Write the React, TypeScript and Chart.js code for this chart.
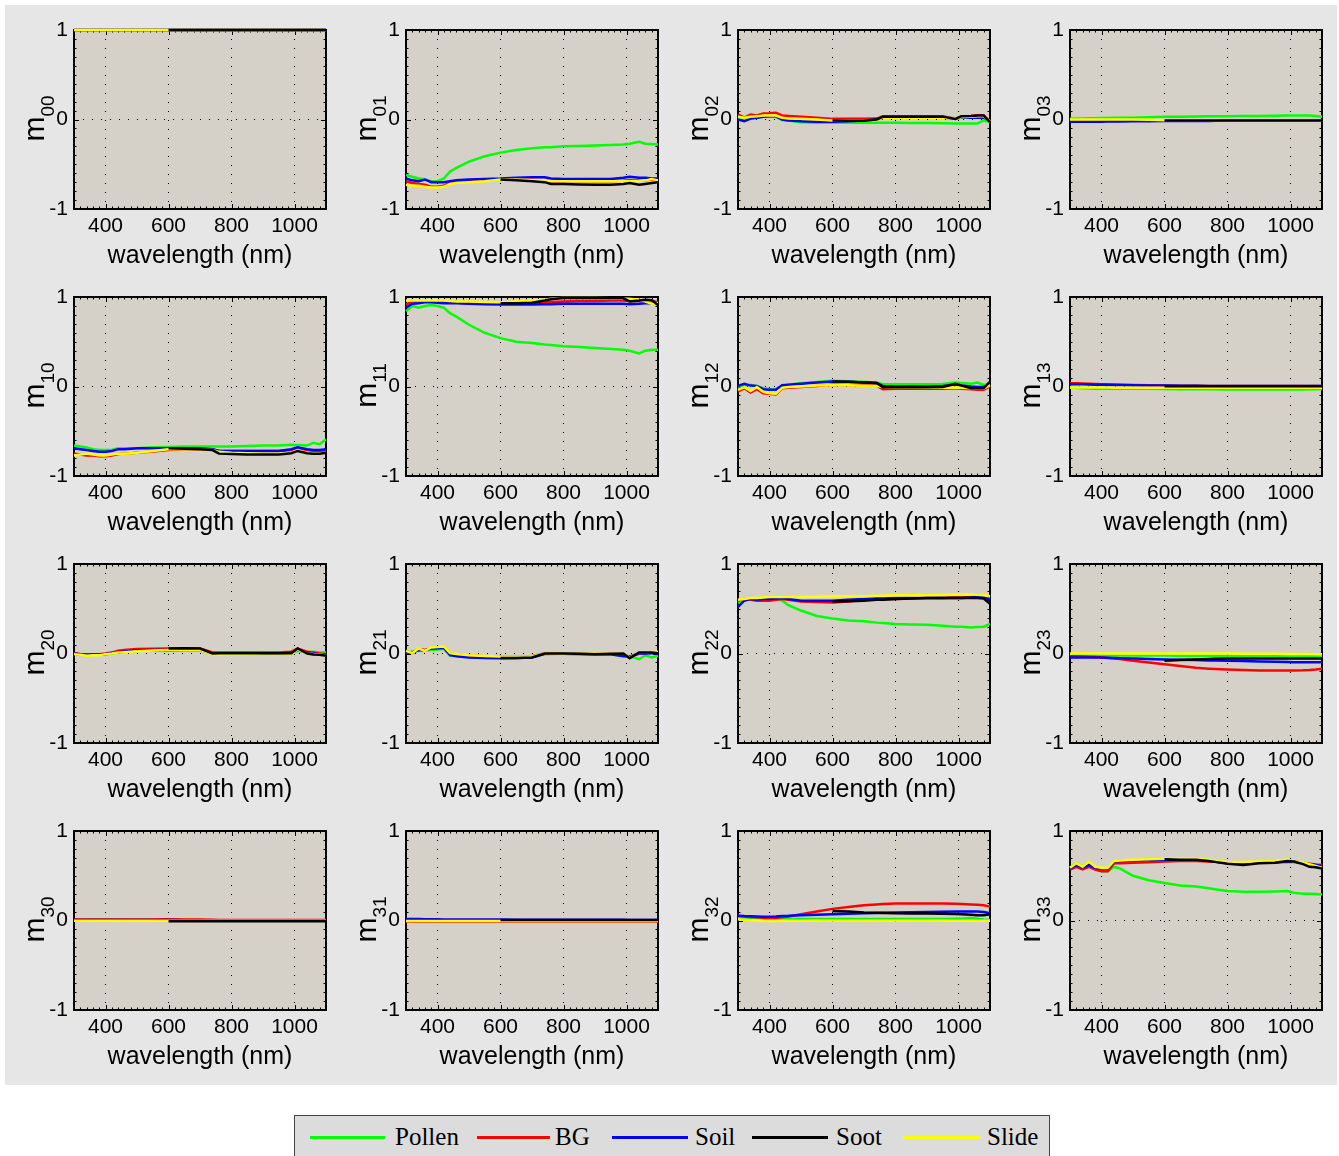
import React, { useEffect, useRef } from 'react';
import { Chart, registerables } from 'chart.js';

Chart.register(...registerables);

// ---------------- data ----------------
const WAVELENGTH = [300, 320, 340, 360, 380, 400, 420, 440, 460, 500, 550, 600, 650, 700, 740, 760, 800, 850, 900, 950, 990, 1010, 1040, 1060, 1080, 1100];
const X_TICKS = [400, 600, 800, 1000];
const Y_TICKS = [-1, 0, 1];
const SERIES_NAMES = ['Pollen', 'BG', 'Soil', 'Soot', 'Slide'];
const SERIES_COLORS = ['#00ff00', '#ff0000', '#0000ff', '#000000', '#ffff00'];
const PANEL_LABELS = ['00', '01', '02', '03', '10', '11', '12', '13', '20', '21', '22', '23', '30', '31', '32', '33'];
const N = null;

const m00_Pollen = [1, 1, 1, 1, 1, 1, 1, 1, 1, 1, 1, 1, 1, 1, 1, 1, 1, 1, 1, 1, 1, 1, 1, 1, 1, 1];
const m00_BG = [1, 1, 1, 1, 1, 1, 1, 1, 1, 1, 1, 1, 1, 1, 1, 1, 1, 1, 1, 1, 1, 1, 1, 1, 1, 1];
const m00_Soil = [1, 1, 1, 1, 1, 1, 1, 1, 1, 1, 1, 1, 1, 1, 1, 1, 1, 1, 1, 1, 1, 1, 1, 1, 1, 1];
const m00_Soot = [N, N, N, N, N, N, N, N, N, N, N, 1, 1, 1, 1, 1, 1, 1, 1, 1, 1, 1, 1, 1, 1, 1];
const m00_Slide = [1, 1, 1, 1, 1, 1, 1, 1, 1, 1, 1, 1, 1, 1, 1, 1, 1, 1, 1, 1, 1, 1, 1, 1, 1, 1];

const m01_Pollen = [-0.62, -0.64, -0.66, -0.67, -0.69, -0.69, -0.66, -0.58, -0.54, -0.47, -0.41, -0.37, -0.34, -0.32, -0.31, -0.31, -0.30, -0.295, -0.29, -0.285, -0.28, -0.27, -0.25, -0.27, -0.275, -0.28];
const m01_BG = [-0.69, -0.71, -0.72, -0.73, -0.75, -0.75, -0.74, -0.71, -0.70, -0.69, -0.68, -0.67, -0.67, -0.67, -0.68, -0.69, -0.69, -0.69, -0.69, -0.69, -0.685, -0.68, -0.68, -0.68, -0.67, -0.68];
const m01_Soil = [-0.66, -0.68, -0.69, -0.67, -0.70, -0.70, -0.70, -0.69, -0.68, -0.67, -0.665, -0.66, -0.65, -0.645, -0.645, -0.66, -0.665, -0.665, -0.665, -0.665, -0.65, -0.64, -0.65, -0.65, -0.66, -0.66];
const m01_Soot = [N, N, N, N, N, N, N, N, N, N, N, -0.67, -0.68, -0.69, -0.70, -0.72, -0.72, -0.725, -0.73, -0.73, -0.72, -0.71, -0.73, -0.72, -0.71, -0.70];
const m01_Slide = [-0.73, -0.74, -0.74, -0.75, -0.76, -0.76, -0.75, -0.72, -0.71, -0.70, -0.69, -0.67, -0.67, -0.675, -0.68, -0.69, -0.69, -0.69, -0.69, -0.69, -0.69, -0.69, -0.685, -0.68, -0.665, -0.68];

const m02_Pollen = [0.0, 0.0, 0.01, 0.02, 0.03, 0.03, 0.03, -0.005, -0.01, -0.03, -0.035, -0.037, -0.037, -0.037, -0.037, -0.037, -0.037, -0.04, -0.04, -0.042, -0.045, -0.045, -0.045, -0.045, -0.01, -0.03];
const m02_BG = [0.056, 0.02, 0.056, 0.045, 0.067, 0.07, 0.075, 0.045, 0.04, 0.03, 0.02, 0.007, 0.007, 0.007, 0.01, 0.037, 0.037, 0.037, 0.037, 0.035, 0.007, 0.037, 0.04, 0.045, 0.045, -0.02];
const m02_Soil = [0.0, -0.02, 0.01, 0.02, 0.03, 0.035, 0.037, 0.0, -0.01, -0.02, -0.025, -0.026, -0.02, -0.01, 0.0, 0.02, 0.02, 0.02, 0.02, 0.02, 0.015, 0.02, 0.02, 0.02, 0.02, -0.01];
const m02_Soot = [N, N, N, N, N, N, N, N, N, N, N, -0.01, -0.015, -0.015, 0.0, 0.03, 0.03, 0.03, 0.032, 0.032, 0.007, 0.037, 0.04, 0.045, 0.045, -0.03];
const m02_Slide = [0.03, 0.02, 0.03, 0.035, 0.045, 0.045, 0.045, 0.02, 0.01, 0.007, 0.0, -0.01, -0.01, -0.01, -0.005, 0.02, 0.02, 0.02, 0.02, 0.02, 0.015, 0.025, 0.03, 0.035, 0.035, -0.02];

const m03_Pollen = [0.007, 0.01, 0.012, 0.014, 0.015, 0.017, 0.018, 0.019, 0.02, 0.02, 0.025, 0.03, 0.032, 0.034, 0.035, 0.036, 0.037, 0.038, 0.04, 0.042, 0.044, 0.045, 0.045, 0.045, 0.04, 0.03];
const m03_BG = [-0.01, -0.01, -0.011, -0.011, -0.012, -0.012, -0.012, -0.012, -0.012, -0.012, -0.012, -0.012, -0.012, -0.012, -0.012, -0.012, -0.012, -0.012, -0.012, -0.012, -0.012, -0.012, -0.012, -0.012, -0.012, -0.012];
const m03_Soil = [-0.026, -0.026, -0.025, -0.025, -0.024, -0.024, -0.023, -0.023, -0.022, -0.02, -0.02, -0.018, -0.017, -0.016, -0.016, -0.015, -0.015, -0.015, -0.015, -0.015, -0.015, -0.015, -0.015, -0.015, -0.015, -0.015];
const m03_Soot = [N, N, N, N, N, N, N, N, N, N, N, -0.012, -0.012, -0.012, -0.012, -0.012, -0.012, -0.012, -0.012, -0.012, -0.012, -0.012, -0.012, -0.012, -0.012, -0.012];
const m03_Slide = [0, 0, 0, 0, 0, 0, 0, 0, 0, 0, -0.004, -0.007, -0.008, -0.008, -0.009, -0.009, -0.01, -0.01, -0.01, -0.01, -0.01, -0.01, -0.01, -0.01, -0.01, -0.01];

const m10_Pollen = [-0.66, -0.67, -0.68, -0.70, -0.71, -0.71, -0.71, -0.69, -0.69, -0.69, -0.68, -0.675, -0.67, -0.67, -0.67, -0.67, -0.67, -0.665, -0.66, -0.66, -0.65, -0.655, -0.66, -0.63, -0.645, -0.59];
const m10_BG = [-0.75, -0.76, -0.77, -0.77, -0.78, -0.78, -0.77, -0.755, -0.75, -0.74, -0.725, -0.71, -0.70, -0.70, -0.70, -0.72, -0.72, -0.72, -0.72, -0.72, -0.71, -0.70, -0.71, -0.72, -0.72, -0.72];
const m10_Soil = [-0.69, -0.70, -0.71, -0.72, -0.73, -0.73, -0.72, -0.70, -0.70, -0.69, -0.69, -0.69, -0.69, -0.69, -0.70, -0.72, -0.72, -0.72, -0.72, -0.72, -0.70, -0.68, -0.70, -0.71, -0.71, -0.70];
const m10_Soot = [N, N, N, N, N, N, N, N, N, N, N, -0.69, -0.695, -0.70, -0.71, -0.75, -0.755, -0.76, -0.76, -0.76, -0.745, -0.72, -0.745, -0.75, -0.75, -0.74];
const m10_Slide = [-0.77, -0.76, -0.75, -0.76, -0.77, -0.77, -0.76, -0.75, -0.75, -0.74, -0.72, -0.70, -0.70, -0.70, -0.71, -0.73, -0.74, -0.745, -0.75, -0.75, -0.74, -0.71, -0.74, -0.745, -0.745, -0.74];

const m11_Pollen = [0.84, 0.90, 0.88, 0.90, 0.91, 0.90, 0.88, 0.82, 0.78, 0.69, 0.60, 0.54, 0.50, 0.485, 0.47, 0.465, 0.45, 0.44, 0.43, 0.42, 0.41, 0.40, 0.37, 0.40, 0.41, 0.41];
const m11_BG = [0.915, 0.95, 0.95, 0.95, 0.95, 0.95, 0.945, 0.94, 0.935, 0.93, 0.925, 0.925, 0.93, 0.935, 0.94, 0.945, 0.95, 0.955, 0.955, 0.96, 0.96, 0.955, 0.955, 0.96, 0.96, 0.94];
const m11_Soil = [0.88, 0.925, 0.93, 0.94, 0.94, 0.935, 0.93, 0.93, 0.93, 0.925, 0.92, 0.915, 0.915, 0.915, 0.92, 0.92, 0.925, 0.925, 0.925, 0.925, 0.925, 0.92, 0.925, 0.93, 0.93, 0.93];
const m11_Soot = [N, N, N, N, N, N, N, N, N, N, N, 0.93, 0.93, 0.935, 0.96, 0.975, 0.99, 0.99, 0.99, 0.99, 0.985, 0.95, 0.96, 0.97, 0.965, 0.91];
const m11_Slide = [0.96, 0.96, 0.96, 0.96, 0.96, 0.96, 0.96, 0.955, 0.95, 0.95, 0.945, 0.94, 0.95, 0.96, 0.97, 0.98, 0.99, 0.99, 0.99, 0.985, 0.98, 0.98, 0.97, 0.95, 0.925, 0.93];

const m12_Pollen = [0.0, 0.01, 0.02, 0.0, -0.02, -0.03, -0.03, 0.005, 0.02, 0.037, 0.05, 0.063, 0.058, 0.052, 0.045, 0.026, 0.026, 0.025, 0.025, 0.028, 0.045, 0.04, 0.03, 0.045, 0.018, 0.03];
const m12_BG = [-0.056, -0.02, -0.067, -0.03, -0.075, -0.082, -0.09, -0.02, -0.015, -0.007, 0.005, 0.02, 0.018, 0.015, 0.01, -0.03, -0.025, -0.025, -0.026, -0.026, -0.02, -0.026, -0.03, -0.035, -0.037, 0.0];
const m12_Soil = [0.007, 0.03, 0.01, 0.007, -0.03, -0.037, -0.037, 0.015, 0.02, 0.03, 0.045, 0.056, 0.052, 0.045, 0.04, 0.007, 0.0, 0.0, 0.0, 0.005, 0.022, 0.01, 0.0, -0.005, -0.005, 0.02];
const m12_Soot = [N, N, N, N, N, N, N, N, N, N, N, 0.056, 0.052, 0.045, 0.04, -0.007, -0.007, -0.005, -0.007, -0.005, 0.03, 0.01, -0.02, -0.02, -0.02, 0.056];
const m12_Slide = [-0.037, -0.007, -0.05, -0.007, -0.06, -0.075, -0.08, -0.015, -0.005, 0.0, 0.01, 0.015, 0.013, 0.007, 0.005, -0.007, -0.01, -0.012, -0.014, -0.015, -0.01, -0.015, -0.02, -0.022, -0.022, 0.015];

const m13_Pollen = [-0.01, -0.015, -0.02, -0.022, -0.024, -0.026, -0.026, -0.026, -0.026, -0.026, -0.026, -0.028, -0.03, -0.03, -0.032, -0.032, -0.034, -0.034, -0.034, -0.034, -0.034, -0.034, -0.033, -0.032, -0.03, -0.028];
const m13_BG = [0.037, 0.035, 0.033, 0.03, 0.028, 0.026, 0.024, 0.022, 0.02, 0.018, 0.015, 0.01, 0.008, 0.007, 0.006, 0.005, 0.005, 0.005, 0.005, 0.005, 0.005, 0.005, 0.005, 0.005, 0.005, 0.005];
const m13_Soil = [0.026, 0.025, 0.024, 0.022, 0.02, 0.02, 0.018, 0.017, 0.016, 0.015, 0.012, 0.01, 0.008, 0.007, 0.006, 0.005, 0.005, 0.005, 0.005, 0.005, 0.005, 0.005, 0.005, 0.005, 0.005, 0.005];
const m13_Soot = [N, N, N, N, N, N, N, N, N, N, N, 0.002, 0.002, 0.002, 0.002, 0.002, 0.002, 0.002, 0.002, 0.002, 0.002, 0.002, 0.002, 0.002, 0.002, 0.002];
const m13_Slide = [-0.01, -0.01, -0.011, -0.011, -0.012, -0.012, -0.012, -0.013, -0.013, -0.013, -0.014, -0.015, -0.015, -0.015, -0.015, -0.015, -0.015, -0.015, -0.015, -0.015, -0.015, -0.015, -0.015, -0.015, -0.015, -0.015];

const m20_Pollen = [0.0, -0.01, -0.018, -0.015, -0.015, -0.01, 0.0, 0.018, 0.02, 0.03, 0.036, 0.04, 0.042, 0.04, 0.0, 0.0, 0.0, 0.0, 0.0, 0.002, 0.01, 0.03, 0.015, 0.02, 0.01, 0.01];
const m20_BG = [0.004, -0.005, -0.011, -0.01, -0.008, 0.0, 0.01, 0.03, 0.04, 0.05, 0.054, 0.056, 0.056, 0.055, 0.011, 0.01, 0.01, 0.01, 0.01, 0.012, 0.02, 0.056, 0.02, 0.01, 0.0, -0.007];
const m20_Soil = [0.0, -0.01, -0.015, -0.012, -0.01, -0.005, 0.005, 0.015, 0.02, 0.035, 0.04, 0.037, 0.04, 0.04, -0.004, -0.002, 0.0, 0.0, 0.0, 0.0, 0.01, 0.034, 0.01, 0.0, -0.01, -0.011];
const m20_Soot = [N, N, N, N, N, N, N, N, N, N, N, 0.056, 0.058, 0.056, 0.0, 0.002, 0.004, 0.004, 0.004, 0.004, 0.004, 0.056, 0.0, -0.01, -0.015, -0.026];
const m20_Slide = [-0.007, -0.015, -0.026, -0.02, -0.02, -0.007, 0.0, 0.011, 0.015, 0.026, 0.033, 0.04, 0.04, 0.04, -0.007, -0.007, -0.007, -0.005, 0.0, 0.0, 0.0, 0.04, 0.0, -0.005, -0.007, -0.026];

const m21_Pollen = [0.011, 0.02, 0.03, 0.035, 0.04, 0.045, 0.05, -0.026, -0.028, -0.034, -0.034, -0.038, -0.036, -0.03, -0.008, -0.006, -0.004, -0.005, -0.005, -0.01, -0.026, -0.03, -0.064, -0.02, -0.045, -0.026];
const m21_BG = [0.023, 0.01, 0.05, 0.04, 0.06, 0.065, 0.071, 0.0, -0.01, -0.026, -0.03, -0.034, -0.034, -0.03, 0.004, 0.004, 0.0, 0.0, -0.002, -0.005, -0.01, -0.038, 0.0, 0.005, 0.01, 0.011];
const m21_Soil = [0.011, 0.005, 0.04, 0.035, 0.055, 0.06, 0.064, -0.019, -0.03, -0.045, -0.05, -0.052, -0.05, -0.045, -0.004, -0.004, -0.004, -0.006, -0.007, -0.008, -0.03, -0.034, 0.0, 0.0, 0.004, 0.004];
const m21_Soot = [N, N, N, N, N, N, N, N, N, N, N, -0.049, -0.049, -0.045, 0.0, 0.0, 0.0, -0.004, -0.007, -0.004, 0.0, -0.052, 0.011, 0.011, 0.011, 0.004];
const m21_Slide = [0.03, 0.004, 0.056, 0.03, 0.067, 0.072, 0.079, 0.004, -0.005, -0.02, -0.028, -0.034, -0.034, -0.034, 0.004, 0.0, 0.0, 0.0, 0.0, 0.0, 0.0, -0.045, 0.011, 0.015, 0.018, 0.019];

const m22_Pollen = [0.57, 0.60, 0.61, 0.61, 0.61, 0.61, 0.62, 0.59, 0.54, 0.48, 0.42, 0.39, 0.37, 0.36, 0.345, 0.34, 0.33, 0.325, 0.32, 0.31, 0.30, 0.30, 0.29, 0.295, 0.30, 0.33];
const m22_BG = [0.59, 0.61, 0.60, 0.59, 0.59, 0.59, 0.60, 0.61, 0.60, 0.58, 0.575, 0.57, 0.58, 0.60, 0.605, 0.605, 0.61, 0.615, 0.62, 0.62, 0.625, 0.625, 0.63, 0.635, 0.64, 0.62];
const m22_Soil = [0.52, 0.59, 0.61, 0.60, 0.61, 0.61, 0.615, 0.62, 0.61, 0.59, 0.59, 0.59, 0.60, 0.61, 0.615, 0.615, 0.62, 0.62, 0.62, 0.62, 0.62, 0.62, 0.625, 0.63, 0.63, 0.60];
const m22_Soot = [N, N, N, N, N, N, N, N, N, N, N, 0.58, 0.585, 0.59, 0.60, 0.60, 0.61, 0.615, 0.62, 0.62, 0.62, 0.62, 0.62, 0.62, 0.615, 0.555];
const m22_Slide = [0.60, 0.61, 0.62, 0.62, 0.625, 0.63, 0.63, 0.63, 0.63, 0.63, 0.635, 0.64, 0.64, 0.64, 0.645, 0.645, 0.65, 0.65, 0.65, 0.655, 0.66, 0.66, 0.66, 0.655, 0.65, 0.64];

const m23_Pollen = [-0.02, -0.02, -0.02, -0.02, -0.02, -0.02, -0.022, -0.022, -0.022, -0.022, -0.022, -0.023, -0.024, -0.025, -0.026, -0.027, -0.027, -0.028, -0.028, -0.029, -0.03, -0.03, -0.03, -0.03, -0.03, -0.03];
const m23_BG = [-0.03, -0.032, -0.034, -0.036, -0.04, -0.045, -0.05, -0.055, -0.062, -0.08, -0.10, -0.12, -0.14, -0.16, -0.17, -0.174, -0.18, -0.185, -0.19, -0.19, -0.19, -0.19, -0.188, -0.185, -0.18, -0.17];
const m23_Soil = [-0.045, -0.045, -0.045, -0.045, -0.045, -0.045, -0.047, -0.049, -0.052, -0.056, -0.062, -0.067, -0.071, -0.074, -0.077, -0.078, -0.082, -0.085, -0.088, -0.092, -0.095, -0.097, -0.097, -0.097, -0.097, -0.097];
const m23_Soot = [N, N, N, N, N, N, N, N, N, N, N, -0.082, -0.074, -0.067, -0.062, -0.06, -0.056, -0.056, -0.056, -0.056, -0.056, -0.056, -0.056, -0.056, -0.056, -0.056];
const m23_Slide = [0.0, 0.0, 0.0, 0.0, 0.0, 0.0, 0.0, 0.0, 0.0, 0.0, 0.0, 0.0, 0.0, 0.0, 0.0, 0.0, 0.0, -0.002, -0.003, -0.004, -0.005, -0.005, -0.006, -0.006, -0.007, -0.007];

const m30_Pollen = [0.004, 0.004, 0.004, 0.005, 0.005, 0.005, 0.005, 0.005, 0.004, 0.004, 0.004, 0.003, 0.003, 0.003, 0.003, 0.003, 0.003, 0.003, 0.003, 0.002, 0.002, 0.002, 0.002, 0.002, 0.002, 0.002];
const m30_BG = [0.01, 0.01, 0.01, 0.01, 0.01, 0.01, 0.01, 0.01, 0.01, 0.01, 0.012, 0.013, 0.012, 0.01, 0.008, 0.006, 0.005, 0.005, 0.005, 0.005, 0.005, 0.005, 0.005, 0.005, 0.005, 0.005];
const m30_Soil = [0.006, 0.006, 0.006, 0.006, 0.006, 0.006, 0.006, 0.006, 0.006, 0.006, 0.006, 0.006, 0.004, 0.002, 0.0, 0.0, 0.0, 0.0, 0.0, 0.0, 0.0, 0.0, 0.0, 0.0, 0.0, 0.0];
const m30_Soot = [N, N, N, N, N, N, N, N, N, N, N, -0.008, -0.008, -0.008, -0.008, -0.008, -0.008, -0.008, -0.008, -0.008, -0.008, -0.008, -0.008, -0.008, -0.008, -0.008];
const m30_Slide = [-0.004, -0.004, -0.004, -0.004, -0.004, -0.004, -0.004, -0.004, -0.004, -0.004, -0.004, -0.004, -0.004, -0.004, -0.004, -0.004, -0.004, -0.004, -0.004, -0.004, -0.004, -0.004, -0.004, -0.004, -0.004, -0.004];

const m31_Pollen = [0.002, 0.002, 0.002, 0.002, 0.002, 0.002, 0.002, 0.002, 0.002, 0.002, 0.002, 0.002, 0.002, 0.002, 0.002, 0.002, 0.002, 0.002, 0.002, 0.002, 0.002, 0.002, 0.002, 0.002, 0.002, 0.002];
const m31_BG = [-0.01, -0.01, -0.01, -0.01, -0.01, -0.01, -0.01, -0.01, -0.01, -0.01, -0.01, -0.01, -0.01, -0.01, -0.01, -0.01, -0.01, -0.01, -0.01, -0.01, -0.01, -0.01, -0.01, -0.01, -0.01, -0.01];
const m31_Soil = [0.018, 0.017, 0.016, 0.015, 0.014, 0.013, 0.012, 0.012, 0.011, 0.011, 0.01, 0.01, 0.009, 0.009, 0.008, 0.008, 0.008, 0.007, 0.007, 0.007, 0.007, 0.006, 0.006, 0.006, 0.006, 0.006];
const m31_Soot = [N, N, N, N, N, N, N, N, N, N, N, 0.006, 0.006, 0.006, 0.006, 0.006, 0.006, 0.006, 0.006, 0.006, 0.006, 0.006, 0.006, 0.006, 0.006, 0.006];
const m31_Slide = [-0.006, -0.006, -0.006, -0.006, -0.006, -0.006, -0.006, -0.006, -0.006, -0.006, -0.006, -0.006, -0.006, -0.006, -0.006, -0.006, -0.006, -0.006, -0.006, -0.006, -0.006, -0.006, -0.006, -0.006, -0.006, -0.006];

const m32_Pollen = [0.024, 0.022, 0.02, 0.02, 0.02, 0.02, 0.02, 0.02, 0.018, 0.017, 0.017, 0.017, 0.017, 0.017, 0.017, 0.017, 0.017, 0.017, 0.017, 0.018, 0.02, 0.02, 0.028, 0.02, 0.01, 0.005];
const m32_BG = [0.054, 0.045, 0.04, 0.035, 0.032, 0.03, 0.03, 0.035, 0.045, 0.07, 0.10, 0.13, 0.15, 0.17, 0.18, 0.183, 0.19, 0.19, 0.19, 0.19, 0.187, 0.185, 0.18, 0.175, 0.17, 0.155];
const m32_Soil = [0.054, 0.05, 0.048, 0.045, 0.043, 0.043, 0.045, 0.05, 0.052, 0.06, 0.065, 0.07, 0.075, 0.08, 0.085, 0.087, 0.09, 0.092, 0.095, 0.097, 0.1, 0.1, 0.1, 0.1, 0.095, 0.08];
const m32_Soot = [N, N, N, N, N, N, N, N, N, N, N, 0.106, 0.1, 0.09, 0.087, 0.085, 0.08, 0.078, 0.077, 0.075, 0.072, 0.07, 0.065, 0.06, 0.06, 0.07];
const m32_Slide = [0.013, 0.008, 0.004, 0.0, -0.004, -0.006, -0.005, -0.004, -0.003, -0.002, 0.0, 0.0, 0.0, 0.0, 0.0, 0.0, 0.0, 0.0, -0.001, -0.001, -0.002, -0.002, -0.002, -0.003, -0.003, -0.003];

const m33_Pollen = [0.59, 0.64, 0.60, 0.66, 0.58, 0.55, 0.55, 0.60, 0.58, 0.50, 0.45, 0.42, 0.39, 0.38, 0.36, 0.35, 0.33, 0.32, 0.32, 0.325, 0.33, 0.31, 0.30, 0.30, 0.295, 0.29];
const m33_BG = [0.57, 0.60, 0.57, 0.60, 0.57, 0.55, 0.55, 0.64, 0.64, 0.645, 0.65, 0.66, 0.665, 0.665, 0.66, 0.655, 0.645, 0.645, 0.645, 0.65, 0.655, 0.655, 0.645, 0.635, 0.625, 0.62];
const m33_Soil = [0.58, 0.62, 0.59, 0.62, 0.59, 0.58, 0.58, 0.66, 0.665, 0.67, 0.675, 0.68, 0.68, 0.68, 0.67, 0.66, 0.64, 0.64, 0.645, 0.65, 0.66, 0.66, 0.645, 0.63, 0.62, 0.61];
const m33_Soot = [N, N, N, N, N, N, N, N, N, N, N, 0.685, 0.68, 0.68, 0.665, 0.655, 0.635, 0.62, 0.64, 0.645, 0.665, 0.66, 0.63, 0.60, 0.595, 0.58];
const m33_Slide = [0.59, 0.64, 0.60, 0.66, 0.60, 0.59, 0.59, 0.665, 0.67, 0.68, 0.685, 0.69, 0.69, 0.69, 0.68, 0.665, 0.65, 0.655, 0.66, 0.665, 0.68, 0.66, 0.65, 0.63, 0.61, 0.59];

// series per panel, in SERIES_NAMES order (Pollen, BG, Soil, Soot, Slide)
const PANEL_SERIES = [
  [m00_Pollen, m00_BG, m00_Soil, m00_Soot, m00_Slide],
  [m01_Pollen, m01_BG, m01_Soil, m01_Soot, m01_Slide],
  [m02_Pollen, m02_BG, m02_Soil, m02_Soot, m02_Slide],
  [m03_Pollen, m03_BG, m03_Soil, m03_Soot, m03_Slide],
  [m10_Pollen, m10_BG, m10_Soil, m10_Soot, m10_Slide],
  [m11_Pollen, m11_BG, m11_Soil, m11_Soot, m11_Slide],
  [m12_Pollen, m12_BG, m12_Soil, m12_Soot, m12_Slide],
  [m13_Pollen, m13_BG, m13_Soil, m13_Soot, m13_Slide],
  [m20_Pollen, m20_BG, m20_Soil, m20_Soot, m20_Slide],
  [m21_Pollen, m21_BG, m21_Soil, m21_Soot, m21_Slide],
  [m22_Pollen, m22_BG, m22_Soil, m22_Soot, m22_Slide],
  [m23_Pollen, m23_BG, m23_Soil, m23_Soot, m23_Slide],
  [m30_Pollen, m30_BG, m30_Soil, m30_Soot, m30_Slide],
  [m31_Pollen, m31_BG, m31_Soil, m31_Soot, m31_Slide],
  [m32_Pollen, m32_BG, m32_Soil, m32_Soot, m32_Slide],
  [m33_Pollen, m33_BG, m33_Soil, m33_Soot, m33_Slide],
];

// ---------------- styling / layout ----------------
const FONT = '"Liberation Sans", Arial, Helvetica, sans-serif';
const SERIF = '"Liberation Serif", "Times New Roman", serif';
const FIG_BG = '#e6e6e6';
const PLOT_BG = '#d5d0c8';
const CW = 332;
const CH = 267;
// Chart.js draws the first dataset on top; order from top to bottom:
const DRAW_ORDER = [3, 4, 2, 1, 0];

function makeAxesPlugin(label: string) {
  return {
    id: 'matlabAxes',
    beforeDraw(chart: any) {
      const { ctx, chartArea: a } = chart;
      ctx.save();
      ctx.fillStyle = PLOT_BG;
      ctx.fillRect(a.left, a.top, a.right - a.left, a.bottom - a.top);
      ctx.restore();
    },
    beforeDatasetsDraw(chart: any) {
      const { ctx, chartArea: a, scales } = chart;
      const xs = scales.x;
      const ys = scales.y;
      ctx.save();
      ctx.strokeStyle = '#000';
      ctx.lineWidth = 1;
      ctx.beginPath();
      // minor ticks x every 20 nm
      for (let v = 300; v <= 1100; v += 20) {
        const px = Math.round(xs.getPixelForValue(v)) + 0.5;
        const major = X_TICKS.includes(v);
        const len = major ? 5 : 2.5;
        ctx.moveTo(px, a.bottom);
        ctx.lineTo(px, a.bottom - len);
        ctx.moveTo(px, a.top);
        ctx.lineTo(px, a.top + len);
      }
      // minor ticks y every 0.1
      for (let k = -10; k <= 10; k++) {
        const v = k / 10;
        const py = Math.round(ys.getPixelForValue(v)) + 0.5;
        const len = k % 10 === 0 ? 5 : 2.5;
        ctx.moveTo(a.left, py);
        ctx.lineTo(a.left + len, py);
        ctx.moveTo(a.right, py);
        ctx.lineTo(a.right - len, py);
      }
      ctx.stroke();
      ctx.lineWidth = 2;
      ctx.strokeRect(Math.round(a.left), Math.round(a.top), Math.round(a.right - a.left), Math.round(a.bottom - a.top));
      ctx.restore();
    },
    afterDraw(chart: any) {
      const { ctx, chartArea: a } = chart;
      ctx.save();
      const cy = (a.top + a.bottom) / 2 - 1;
      const bx = a.left - 30;
      ctx.translate(bx, cy);
      ctx.rotate(-Math.PI / 2);
      ctx.fillStyle = '#000';
      ctx.textBaseline = 'alphabetic';
      ctx.textAlign = 'left';
      ctx.font = `30px ${FONT}`;
      const wm = ctx.measureText('m').width;
      ctx.font = `19px ${FONT}`;
      const ws = ctx.measureText(label).width;
      const start = -(wm + ws) / 2;
      ctx.font = `30px ${FONT}`;
      ctx.fillText('m', start, 0);
      ctx.font = `19px ${FONT}`;
      ctx.fillText(label, start + wm, 10);
      ctx.restore();
    },
  };
}

function Panel({ index, left, top }: { index: number; left: number; top: number }) {
  const ref = useRef<HTMLCanvasElement | null>(null);
  useEffect(() => {
    if (!ref.current) return;
    const series = PANEL_SERIES[index];
    const chart = new Chart(ref.current, {
      type: 'line',
      data: {
        datasets: DRAW_ORDER.map((si) => ({
          label: SERIES_NAMES[si],
          data: WAVELENGTH.map((x, i) => ({ x, y: series[si][i] })),
          borderColor: SERIES_COLORS[si],
          backgroundColor: SERIES_COLORS[si],
          borderWidth: 2.5,
          pointRadius: 0,
          tension: 0,
          fill: false,
          spanGaps: false,
          clip: 2,
        })),
      },
      options: {
        animation: false,
        responsive: false,
        devicePixelRatio: 1,
        layout: { padding: { top: 25, right: 11, left: 0, bottom: 0 } },
        plugins: { legend: { display: false }, tooltip: { enabled: false } },
        events: [],
        scales: {
          x: {
            type: 'linear',
            min: 300,
            max: 1100,
            afterBuildTicks: (s: any) => {
              s.ticks = X_TICKS.map((value) => ({ value }));
            },
            afterFit: (s: any) => {
              s.height = 63;
            },
            grid: { color: '#000', lineWidth: 1, drawTicks: false },
            border: { display: false, dash: [1, 8] },
            ticks: {
              color: '#000',
              font: { family: FONT, size: 21 },
              padding: 5,
              maxRotation: 0,
              autoSkip: false,
              callback: (v: any) => String(v),
            },
            title: { display: true, text: 'wavelength (nm)', color: '#000', font: { family: FONT, size: 25 }, padding: { top: 0, bottom: 1 } },
          },
          y: {
            type: 'linear',
            min: -1,
            max: 1,
            afterBuildTicks: (s: any) => {
              s.ticks = Y_TICKS.map((value) => ({ value }));
            },
            afterFit: (s: any) => {
              s.width = 69;
            },
            grid: { color: '#000', lineWidth: 1, drawTicks: false },
            border: { display: false, dash: [1, 8] },
            ticks: {
              color: '#000',
              font: { family: FONT, size: 21 },
              padding: 6,
              autoSkip: false,
              callback: (v: any) => String(v),
            },
          },
        },
      } as any,
      plugins: [makeAxesPlugin(PANEL_LABELS[index]) as any],
    });
    return () => chart.destroy();
  }, [index]);
  return (
    <canvas
      ref={ref}
      width={CW}
      height={CH}
      style={{ position: 'absolute', left, top, width: CW, height: CH }}
    />
  );
}

const LEGEND_ITEMS = [
  { line: 15, w: 75, text: 100 },
  { line: 182, w: 73, text: 260 },
  { line: 317, w: 76, text: 400 },
  { line: 457, w: 76, text: 541 },
  { line: 608, w: 77, text: 692 },
];

export default function App() {
  return (
    <div style={{ position: 'absolute', left: 0, top: 0, width: 1339, height: 1156, overflow: 'hidden', background: '#fff' }}>
      <div style={{ position: 'absolute', left: 5, top: 5, width: 1332, height: 1080, background: FIG_BG }} />
      {PANEL_LABELS.map((_, i) => (
        <Panel key={i} index={i} left={5 + (i % 4) * 332} top={5 + Math.floor(i / 4) * 267} />
      ))}
      <div
        style={{
          position: 'absolute',
          left: 294,
          top: 1115,
          width: 754,
          height: 60,
          background: '#dcdcdc',
          border: '1px solid #444',
        }}
      >
        {SERIES_NAMES.map((name, i) => (
          <React.Fragment key={name}>
            <div
              style={{
                position: 'absolute',
                left: LEGEND_ITEMS[i].line,
                top: 20,
                width: LEGEND_ITEMS[i].w,
                height: 3,
                background: SERIES_COLORS[i],
              }}
            />
            <div
              style={{
                position: 'absolute',
                left: LEGEND_ITEMS[i].text,
                top: 6,
                fontFamily: SERIF,
                fontSize: 25,
                lineHeight: '30px',
                color: '#000',
                whiteSpace: 'nowrap',
              }}
            >
              {name}
            </div>
          </React.Fragment>
        ))}
      </div>
    </div>
  );
}
